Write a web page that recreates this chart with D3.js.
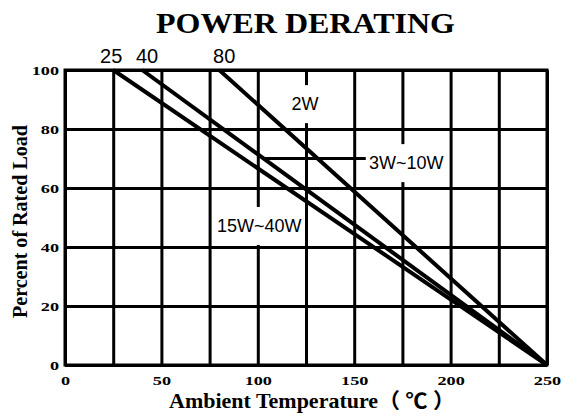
<!DOCTYPE html>
<html>
<head>
<meta charset="utf-8">
<script src="https://cdn.jsdelivr.net/npm/d3@7"></script>
<style>
  body { margin: 0; background: #fff; }
  svg { display: block; }
</style>
</head>
<body>
<div id="plot"></div>
<script>
// Chart values
const xTickValues = [0, 25, 50, 75, 100, 125, 150, 175, 200, 225, 250];
const xTickLabels = [0, 50, 100, 150, 200, 250];
const yTickValues = [0, 20, 40, 60, 80, 100];

const ratings = ["15W~40W", "3W~10W", "2W"];
const kneeTemps = [25, 40, 80];      // full load up to here
const zeroTemps = [250, 250, 250];   // load is 0 here
const fullLoad = [100, 100, 100];

// where the rating labels sit (temperature, load)
const labelTemps = [78.8, 157.7, 124.5];
const labelLoads = [45.1, 66.4, 86.4];

// leader line from the 3W~10W curve to its label
const leaderLoad = [70, 70];
const leaderTemps = [103, 156];

const W = 562, H = 419;

const svg = d3.select("#plot")
    .append("svg")
    .attr("width", W)
    .attr("height", H);

const x = d3.scaleLinear().domain([0, 250]).range([65, 547]);
const y = d3.scaleLinear().domain([0, 100]).range([365, 70]);

const plotW = x(250) - x(0);
const plotH = y(0) - y(100);

// stretch the little serif tick numbers sideways like the scan
function widen(sel, k) {
    sel.each(function () {
        const w = this.getComputedTextLength();
        if (w > 0) {
            d3.select(this)
                .attr("textLength", w * k)
                .attr("lengthAdjust", "spacingAndGlyphs");
        }
    });
}

// X grid + labels
const xAxis = svg.append("g")
    .attr("transform", `translate(0,${y(0)})`)
    .call(d3.axisBottom(x)
        .tickValues(xTickValues)
        .tickSize(-plotH)
        .tickPadding(11)
        .tickFormat(d => xTickLabels.includes(d) ? d : ""));
xAxis.select(".domain").remove();
xAxis.selectAll("line").attr("stroke", "#000").attr("stroke-width", 3);
xAxis.selectAll("text")
    .attr("fill", "#000")
    .style("font-family", "Liberation Serif, serif")
    .style("font-weight", "bold")
    .style("font-size", "13px")
    .call(widen, 1.4);

// Y grid + labels
const yAxis = svg.append("g")
    .attr("transform", `translate(${x(0)},0)`)
    .call(d3.axisLeft(y)
        .tickValues(yTickValues)
        .tickSize(-plotW)
        .tickPadding(6));
yAxis.select(".domain").remove();
yAxis.selectAll("line").attr("stroke", "#000").attr("stroke-width", 3);
yAxis.selectAll("text")
    .attr("fill", "#000")
    .style("font-family", "Liberation Serif, serif")
    .style("font-weight", "bold")
    .style("font-size", "13px")
    .call(widen, 1.4);

// frame
svg.append("rect")
    .attr("x", x(0))
    .attr("y", y(100))
    .attr("width", plotW)
    .attr("height", plotH)
    .attr("fill", "none")
    .attr("stroke", "#000")
    .attr("stroke-width", 3);

// white boxes behind the rating labels (they break the grid lines)
const labelFont = "18px 'Liberation Sans', Arial, sans-serif";
const anchors = ["start", "start", "middle"];
const labels = svg.append("g");
ratings.forEach((r, i) => {
    const t = labels.append("text")
        .attr("x", x(labelTemps[i]))
        .attr("y", y(labelLoads[i]))
        .attr("text-anchor", anchors[i])
        .style("font", labelFont)
        .text(r);
    const bb = t.node().getBBox();
    labels.insert("rect", "text")
        .attr("x", bb.x - 2)
        .attr("y", bb.y - 9)
        .attr("width", bb.width + 4)
        .attr("height", bb.height + 18)
        .attr("fill", "#fff");
});
// pull the text back out so curves can be drawn between box and text
const labelTexts = labels.selectAll("text").remove();

// derating curves
const line = d3.line()
    .x(d => x(d[0]))
    .y(d => y(d[1]));

ratings.forEach((r, i) => {
    svg.append("path")
        .datum([[kneeTemps[i], fullLoad[i]], [zeroTemps[i], 0]])
        .attr("fill", "none")
        .attr("stroke", "#000")
        .attr("stroke-width", 4)
        .attr("d", line);
});

// leader line
svg.append("path")
    .datum(leaderTemps.map((t, i) => [t, leaderLoad[i]]))
    .attr("fill", "none")
    .attr("stroke", "#000")
    .attr("stroke-width", 3)
    .attr("d", line);

// rating labels on top
labelTexts.each(function () {
    svg.node().appendChild(this);
});

// knee temperatures above the frame
svg.selectAll(".knee")
    .data(kneeTemps)
    .join("text")
    .attr("class", "knee")
    .attr("x", d => x(d) + (d < 30 ? -2 : 5))
    .attr("y", y(100) - 7)
    .attr("text-anchor", "middle")
    .style("font", "20px 'Liberation Sans', Arial, sans-serif")
    .text(d => d);

// title
svg.append("text")
    .attr("x", 305.5)
    .attr("y", 33)
    .attr("text-anchor", "middle")
    .attr("textLength", 299)
    .attr("lengthAdjust", "spacingAndGlyphs")
    .style("font-family", "Liberation Serif, serif")
    .style("font-weight", "bold")
    .style("font-size", "29px")
    .text("POWER DERATING");

// x axis title
svg.append("text")
    .attr("x", 312)
    .attr("y", 408)
    .attr("text-anchor", "middle")
    .attr("textLength", 286)
    .attr("lengthAdjust", "spacingAndGlyphs")
    .style("font-family", "Liberation Serif, 'Noto Sans CJK SC', serif")
    .style("font-weight", "bold")
    .style("font-size", "21px")
    .text("Ambient Temperature（ ℃ ）");

// y axis title
svg.append("text")
    .attr("transform", "translate(27,221.5) rotate(-90)")
    .attr("text-anchor", "middle")
    .attr("textLength", 193)
    .attr("lengthAdjust", "spacingAndGlyphs")
    .style("font-family", "Liberation Serif, serif")
    .style("font-weight", "bold")
    .style("font-size", "21px")
    .text("Percent of Rated Load");
</script>
</body>
</html>
